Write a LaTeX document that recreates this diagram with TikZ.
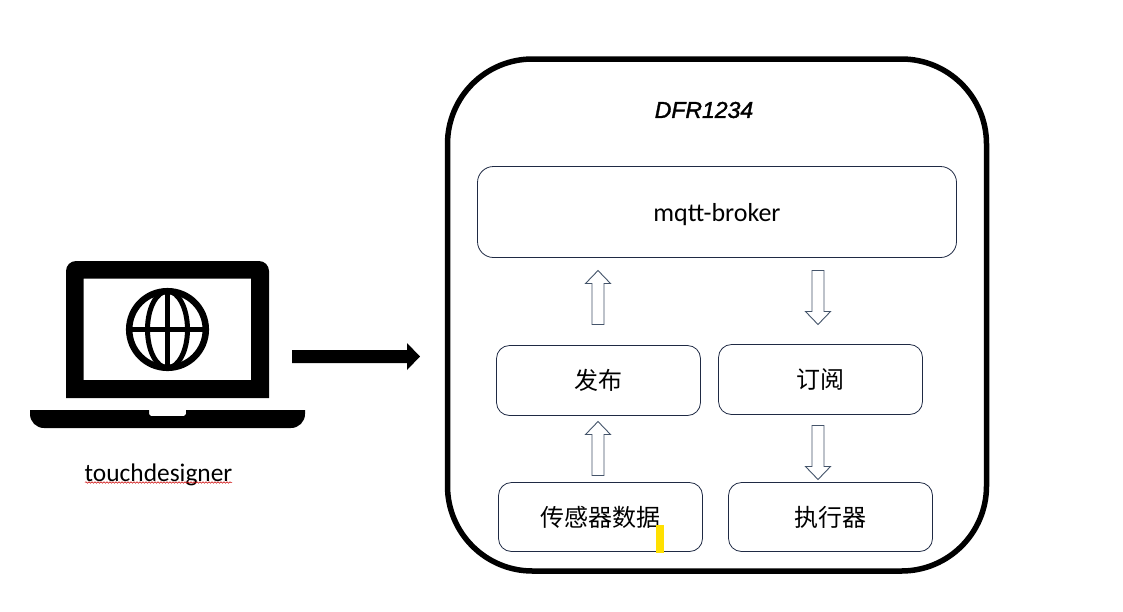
\documentclass[tikz,border=0pt]{standalone}
\usepackage{fontspec}
\usetikzlibrary{calc,decorations.pathmorphing}
\setmainfont{Carlito}
\newfontfamily\cjk{Noto Sans CJK SC}
\newfontfamily\ital{Liberation Sans}[ItalicFeatures={FakeBold=1.5}]
\definecolor{boxline}{HTML}{1F2A44}
\definecolor{arrowline}{HTML}{44546A}
\definecolor{markyellow}{HTML}{FFE000}
\tikzset{
  x=1pt,y=-1pt,
  panel/.style={draw=boxline,line width=0.8pt,rounded corners=13pt,fill=white,inner sep=0pt,minimum width=204pt,minimum height=70pt,font=\fontsize{24}{26}\selectfont\cjk},
  hollowarrow/.style={draw=arrowline,line width=0.9pt,fill=white,line join=miter,
    to path={
      coordinate (hb) at ($(\tikztotarget)!13pt!(\tikztostart)$)
      -- ($(\tikztostart)!6pt!90:(\tikztotarget)$)
      -- ($(hb)!6pt!90:(\tikztotarget)$)
      -- ($(hb)!12.5pt!90:(\tikztotarget)$)
      -- (\tikztotarget)
      -- ($(hb)!12.5pt!-90:(\tikztotarget)$)
      -- ($(hb)!6pt!-90:(\tikztotarget)$)
      -- ($(\tikztostart)!6pt!-90:(\tikztotarget)$)
      -- cycle}},
  solidarrow/.style={fill=black,draw=none,
    to path={
      coordinate (hb) at ($(\tikztotarget)!13pt!(\tikztostart)$)
      -- ($(\tikztostart)!6.5pt!90:(\tikztotarget)$)
      -- ($(hb)!6.5pt!90:(\tikztotarget)$)
      -- ($(hb)!13.5pt!90:(\tikztotarget)$)
      -- (\tikztotarget)
      -- ($(hb)!13.5pt!-90:(\tikztotarget)$)
      -- ($(hb)!6.5pt!-90:(\tikztotarget)$)
      -- ($(\tikztostart)!6.5pt!-90:(\tikztotarget)$)
      -- cycle}},
}
\begin{document}
\begin{tikzpicture}
\useasboundingbox (0,0) rectangle (1123,611);
\fill[white] (0,0) rectangle (1123,611);

% outer device frame
\node[draw=black,line width=5.5pt,rounded corners=85pt,minimum width=539pt,minimum height=512pt,inner sep=0pt] (device) at (717,315) {};
\node[font=\fontsize{23}{25}\selectfont\ital\itshape,inner sep=0pt] (title) at (704,110) {DFR1234};

% inner boxes
\node[panel,minimum width=479pt,minimum height=91pt,rounded corners=16pt] (broker) at (717,212) {};
\node[font=\fontsize{26}{28}\selectfont,inner sep=0pt] (brokertext) at (717,214.5) {mqtt-broker};
\node[panel] (pub) at (598.5,380.5) {发布};
\node[panel] (sub) at (820.5,379.5) {订阅};
\node[panel,minimum height=69pt] (sensor) at (600.5,517) {传感器数据};
\node[panel,minimum height=69pt] (act) at (830.5,517) {执行器};

% highlight mark
\fill[markyellow] (655.7,525) rectangle (664.3,552.5);

% hollow arrows
\coordinate (a1s) at (598,324.5);
\coordinate (a1e) at (598,270.5);
\coordinate (a2s) at (598,475.5);
\coordinate (a2e) at (598,421.5);
\coordinate (a3s) at (818,270.5);
\coordinate (a3e) at (818,324.5);
\coordinate (a4s) at (818,425.5);
\coordinate (a4e) at (818,479.5);
\draw[hollowarrow] (a1s) to (a1e);
\draw[hollowarrow] (a2s) to (a2e);
\draw[hollowarrow] (a3s) to (a3e);
\draw[hollowarrow] (a4s) to (a4e);

% laptop
\fill[black,even odd rule]
  (66,398) -- (66,271) arc[start angle=180,end angle=270,radius=10] -- (259,261)
  arc[start angle=270,end angle=360,radius=10] -- (269,398) -- cycle
  (83.5,278.5) rectangle (251,380);
\fill[black] (30,410) -- (149,410) -- (149,414) -- (151,416) -- (184,416) -- (186,414) -- (186,410) -- (305,410)
  -- (305,414) arc[start angle=0,end angle=90,radius=14] -- (44,428) arc[start angle=90,end angle=180,radius=14] -- cycle;
% globe
\draw[black,line width=6.5pt] (167.5,329.5) circle[radius=38.3];
\draw[black,line width=5pt] (167.5,329.5) ellipse[x radius=20,y radius=38.3];
\draw[black,line width=5pt] (167.5,291) -- (167.5,368);
\draw[black,line width=5pt] (129,329.5) -- (206,329.5);

\node[font=\fontsize{25.4}{27}\selectfont,inner sep=0pt] (laptoplabel) at (158.5,474.5) {touchdesigner};
\draw[red!80!black,line width=0.5pt,decorate,decoration={snake,amplitude=0.8pt,segment length=3pt}] (85,482.5) -- (232,482.5);

% solid arrow
\coordinate (bs) at (292,356.5);
\coordinate (be) at (420,356.5);
\draw[solidarrow] (bs) to (be);
\end{tikzpicture}
\end{document}
